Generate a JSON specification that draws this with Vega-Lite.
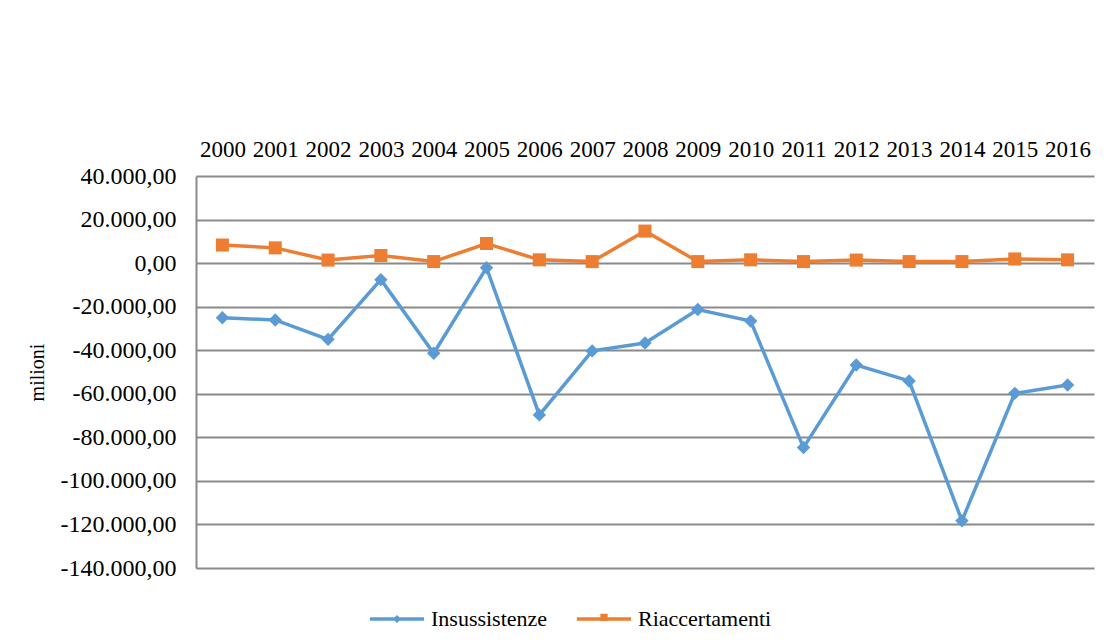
{
  "$schema": "https://vega.github.io/schema/vega-lite/v6.json",
  "width": 898,
  "height": 392,
  "autosize": {"type": "none"},
  "padding": {"left": 196, "top": 176, "right": 17, "bottom": 75},
  "background": "white",
  "config": {
    "view": {"stroke": null},
    "font": "Liberation Serif",
    "locale": {"number": {"decimal": ",", "thousands": ".", "grouping": [3], "currency": ["", " €"], "minus": "-"}}
  },
  "data": {"values": [
    {"anno": "2000", "serie": "Insussistenze", "valore": -25100},
    {"anno": "2001", "serie": "Insussistenze", "valore": -26100},
    {"anno": "2002", "serie": "Insussistenze", "valore": -35000},
    {"anno": "2003", "serie": "Insussistenze", "valore": -7600},
    {"anno": "2004", "serie": "Insussistenze", "valore": -41400},
    {"anno": "2005", "serie": "Insussistenze", "valore": -2100},
    {"anno": "2006", "serie": "Insussistenze", "valore": -69700},
    {"anno": "2007", "serie": "Insussistenze", "valore": -40300},
    {"anno": "2008", "serie": "Insussistenze", "valore": -36700},
    {"anno": "2009", "serie": "Insussistenze", "valore": -21300},
    {"anno": "2010", "serie": "Insussistenze", "valore": -26600},
    {"anno": "2011", "serie": "Insussistenze", "valore": -84700},
    {"anno": "2012", "serie": "Insussistenze", "valore": -46800},
    {"anno": "2013", "serie": "Insussistenze", "valore": -54100},
    {"anno": "2014", "serie": "Insussistenze", "valore": -118300},
    {"anno": "2015", "serie": "Insussistenze", "valore": -59800},
    {"anno": "2016", "serie": "Insussistenze", "valore": -56000},
    {"anno": "2000", "serie": "Riaccertamenti", "valore": 8300},
    {"anno": "2001", "serie": "Riaccertamenti", "valore": 7000},
    {"anno": "2002", "serie": "Riaccertamenti", "valore": 1400},
    {"anno": "2003", "serie": "Riaccertamenti", "valore": 3500},
    {"anno": "2004", "serie": "Riaccertamenti", "valore": 700},
    {"anno": "2005", "serie": "Riaccertamenti", "valore": 9000},
    {"anno": "2006", "serie": "Riaccertamenti", "valore": 1500},
    {"anno": "2007", "serie": "Riaccertamenti", "valore": 700},
    {"anno": "2008", "serie": "Riaccertamenti", "valore": 14700},
    {"anno": "2009", "serie": "Riaccertamenti", "valore": 700},
    {"anno": "2010", "serie": "Riaccertamenti", "valore": 1500},
    {"anno": "2011", "serie": "Riaccertamenti", "valore": 700},
    {"anno": "2012", "serie": "Riaccertamenti", "valore": 1400},
    {"anno": "2013", "serie": "Riaccertamenti", "valore": 700},
    {"anno": "2014", "serie": "Riaccertamenti", "valore": 700},
    {"anno": "2015", "serie": "Riaccertamenti", "valore": 1900},
    {"anno": "2016", "serie": "Riaccertamenti", "valore": 1500}
  ]},
  "encoding": {
    "x": {
      "field": "anno", "type": "ordinal",
      "scale": {"type": "point", "padding": 0.5},
      "axis": {"orient": "top", "title": null, "labelAngle": 0, "domain": false, "ticks": false, "grid": false,
               "labelFont": "Liberation Serif", "labelFontSize": 23, "labelColor": "#000000", "labelPadding": 15}
    },
    "y": {
      "field": "valore", "type": "quantitative",
      "scale": {"domain": [-140000, 40000], "nice": false, "zero": false},
      "axis": {"values": [-140000, -120000, -100000, -80000, -60000, -40000, -20000, 0, 20000, 40000],
               "format": ",.2f", "title": "milioni", "titleFont": "Liberation Serif", "titleFontSize": 20,
               "titleFontWeight": "normal", "titleColor": "#000000", "titleX": -149,
               "labelFont": "Liberation Serif", "labelFontSize": 24, "labelColor": "#000000", "labelPadding": 20,
               "ticks": false, "domain": true, "domainColor": "#8a8a8a", "domainWidth": 2,
               "grid": true, "gridColor": "#8a8a8a", "gridWidth": 2}
    },
    "color": {
      "field": "serie", "type": "nominal",
      "scale": {"domain": ["Insussistenze", "Riaccertamenti"], "range": ["#5B9BD5", "#ED7D31"]},
      "legend": {
        "title": null, "orient": "none", "direction": "horizontal", "legendX": 172, "legendY": 414,
        "labelFont": "Liberation Serif", "labelFontSize": 22, "labelColor": "#000000",
        "symbolSize": 2916, "symbolStrokeWidth": 3.5, "labelOffset": 5, "columnPadding": 22,
        "symbolType": "M-1,0H1",
        "encode": {"symbols": {"update": {
          "shape": {"signal": "datum.value === 'Insussistenze' ? 'M-1,0H1M0,-0.06L0.06,0L0,0.06L-0.06,0Z' : 'M-1,0H1M-0.07,-0.13H0.07V0.01H-0.07Z'"},
          "fill": {"signal": "scale('color', datum.value)"},
          "stroke": {"signal": "scale('color', datum.value)"},
          "strokeWidth": {"value": 3.5},
          "opacity": {"value": 1}
        }}}
      }
    }
  },
  "layer": [
    {"mark": {"type": "line", "strokeWidth": 3.5}},
    {"transform": [{"filter": "datum.serie === 'Insussistenze'"}],
     "mark": {"type": "point", "filled": true, "opacity": 1, "size": 180, "shape": "diamond"}},
    {"transform": [{"filter": "datum.serie === 'Riaccertamenti'"}],
     "mark": {"type": "point", "filled": true, "opacity": 1, "size": 170, "shape": "square"}}
  ]
}
